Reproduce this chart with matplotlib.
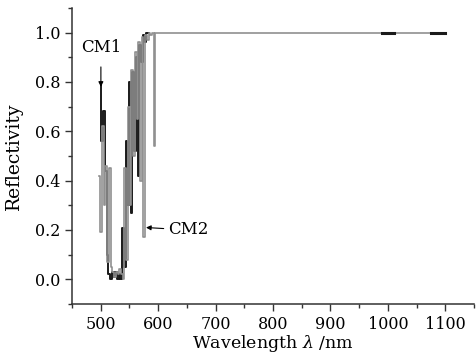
import numpy as np
import matplotlib
matplotlib.use("Agg")
import matplotlib.pyplot as plt
from matplotlib.ticker import MultipleLocator

plt.rcParams['font.family'] = ['DejaVu Serif']
plt.rcParams['mathtext.fontset'] = 'dejavuserif'

# CM1 (black) - reflectivity, 3 nm steps from 500 nm
cm1_wl = np.arange(500, 585, 3)
cm1_r = [0.79, 0.56, 0.68, 0.44, 0.10, 0.02, 0.00, 0.03, 0.01, 0.03,
         0.00, 0.02, 0.00, 0.21, 0.05, 0.56, 0.30, 0.80, 0.27, 0.84,
         0.52, 0.90, 0.42, 0.95, 0.88, 0.99, 0.96, 1.00, 1.00]
# extra black pieces on the flat part
cm1_tail_wl = [990, 1010, np.nan, 1075, 1100]
cm1_tail_r = [1.0, 1.0, np.nan, 1.0, 1.0]

# CM2 (grey), 3 nm steps from 498 nm, flat to 1100 nm
cm2_wl = list(np.arange(498, 601, 3)) + [1100]
cm2_r = [0.42, 0.19, 0.62, 0.30, 0.46, 0.07, 0.45, 0.05, 0.03, 0.01,
         0.03, 0.02, 0.04, 0.02, 0.00, 0.45, 0.08, 0.70, 0.30, 0.85,
         0.50, 0.92, 0.65, 0.96, 0.40, 0.98, 0.17, 0.99, 0.97, 1.00,
         0.99, 1.00, 0.54, 1.00, 1.00, 1.00]

fig = plt.figure(figsize=(4.76, 3.56), dpi=100)
ax = fig.add_axes([0.151, 0.146, 0.845, 0.832])

ax.plot(cm1_wl, cm1_r, color='#1a1a1a', lw=1.4, drawstyle='steps-mid', zorder=2)
ax.plot(cm2_wl, cm2_r, color='#909090', lw=1.2, drawstyle='steps-mid', zorder=3)
ax.plot(cm1_tail_wl, cm1_tail_r, color='#1a1a1a', lw=2.2, zorder=4)

ax.set_xlim(450, 1150)
ax.set_ylim(-0.1, 1.1)
ax.xaxis.set_minor_locator(MultipleLocator(50))
ax.yaxis.set_minor_locator(MultipleLocator(0.1))
ax.set_xticks(np.arange(500, 1101, 100))
ax.set_yticks(np.arange(0.0, 1.01, 0.2))
ax.set_yticklabels([f'{v:.1f}' for v in np.arange(0.0, 1.01, 0.2)])

for s in ['top', 'right']:
    ax.spines[s].set_visible(False)
for s in ['left', 'bottom']:
    ax.spines[s].set_linewidth(1.1)
    ax.spines[s].set_color('#333333')
ax.tick_params(which='major', direction='out', length=5, width=1, labelsize=11.5, colors='#333333',
               labelcolor='black')
ax.tick_params(which='minor', direction='out', length=3, width=1, colors='#333333')

ax.set_xlabel(r'Wavelength $\lambda$ /nm', fontsize=12.5, labelpad=0)
ax.set_ylabel('Reflectivity', fontsize=13.5, labelpad=8)

ax.annotate('CM1', xy=(500.5, 0.78), xytext=(500.5, 0.94), ha='center', va='center',
            fontsize=12, arrowprops=dict(arrowstyle='-|>', color='black', lw=0.8,
                                         mutation_scale=7, shrinkA=6, shrinkB=0))
ax.annotate('CM2', xy=(579, 0.21), xytext=(617, 0.20), ha='left', va='center',
            fontsize=12, arrowprops=dict(arrowstyle='-|>', color='black', lw=0.8,
                                         mutation_scale=7, shrinkA=1, shrinkB=0))

fig.savefig('out.png', dpi=100)
